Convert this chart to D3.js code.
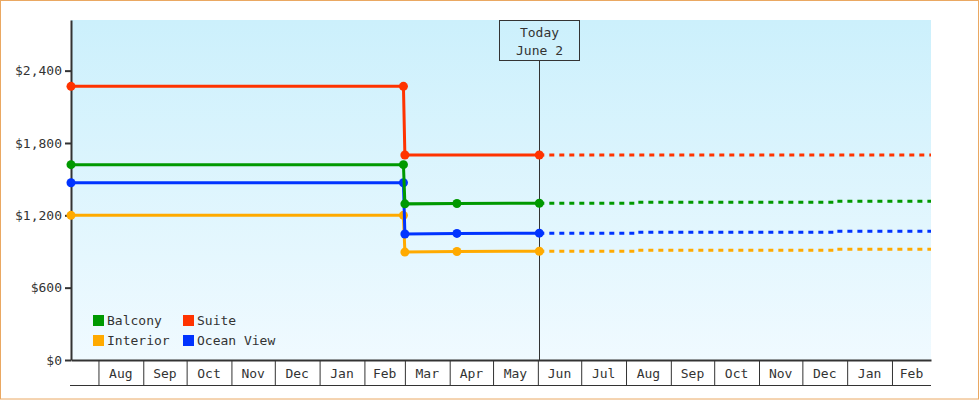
<!DOCTYPE html>
<html>
<head>
<meta charset="utf-8">
<script src="https://cdn.jsdelivr.net/npm/d3@7"></script>
<style>
  body { margin: 0; background: #fff; }
  text { font-family: "DejaVu Sans Mono", monospace; font-size: 13px; fill: #333; }
</style>
</head>
<body>
<div id="chart"></div>
<script>
// price history (solid) and forecast (dashed)
const categories = ["Balcony", "Suite", "Interior", "Ocean View"];
const colors = ["#009900", "#ff3300", "#ffaa00", "#0033ff"];
const priceDates = ["2013-07-13", "2014-02-28", "2014-03-01", "2014-04-06", "2014-06-02"];
const balcony = [1620, 1620, 1295, 1298, 1300];
const suite = [2270, 2270, 1700, null, 1700];
const interior = [1200, 1200, 895, 900, 902];
const oceanView = [1470, 1470, 1045, 1050, 1052];
const forecastDates = ["2014-06-02", "2014-08-09", "2014-12-23", "2015-02-28"];
const balconyForecast = [1300, 1308, 1316, 1316];
const suiteForecast = [1700, 1700, 1700, 1700];
const interiorForecast = [902, 910, 918, 918];
const oceanViewForecast = [1052, 1060, 1068, 1068];
const yTicks = [0, 600, 1200, 1800, 2400];
const xDomain = ["2013-07-13", "2015-02-28"];
const today = "2014-06-02";
const todayLabel = ["Today", "June 2"];

var w = 980, h = 400;
var pLeft = 71, pRight = 931, pTop = 20, pBottom = 360;

var parse = d3.utcParse("%Y-%m-%d");

var series = [
  { name: "Interior", color: colors[2], vals: interior, fc: interiorForecast },
  { name: "Ocean View", color: colors[3], vals: oceanView, fc: oceanViewForecast },
  { name: "Balcony", color: colors[0], vals: balcony, fc: balconyForecast },
  { name: "Suite", color: colors[1], vals: suite, fc: suiteForecast }
];

var svg = d3.select("#chart").append("svg")
  .attr("width", w)
  .attr("height", h);

svg.append("rect")
  .attr("x", 0.5).attr("y", 0.5)
  .attr("width", w - 2).attr("height", h - 1.5)
  .attr("fill", "#fff")
  .attr("stroke", "#eaa862");

var grad = svg.append("defs").append("linearGradient")
  .attr("id", "bg").attr("x1", 0).attr("y1", 0).attr("x2", 0).attr("y2", 1);
grad.append("stop").attr("offset", "0%").attr("stop-color", "#ccf0fc");
grad.append("stop").attr("offset", "100%").attr("stop-color", "#f0faff");

svg.append("rect")
  .attr("x", pLeft).attr("y", pTop)
  .attr("width", pRight - pLeft).attr("height", pBottom - pTop)
  .attr("fill", "url(#bg)");

var x = d3.scaleUtc()
  .domain(xDomain.map(parse))
  .range([pLeft, pRight]);

var y = d3.scaleLinear()
  .domain([0, 2820])
  .range([pBottom, pTop]);

// x axis: month boxes
var months = d3.utcMonth.range(x.domain()[0], x.domain()[1]);

var xAxis = svg.append("g")
  .attr("transform", "translate(0," + pBottom + ")")
  .call(d3.axisBottom(x).tickValues(months).tickSize(25).tickSizeOuter(0).tickFormat(""));
xAxis.select(".domain").attr("stroke", "#333").attr("stroke-width", 2);
xAxis.selectAll(".tick line").attr("stroke", "#333");

svg.append("line")
  .attr("x1", pLeft - 1).attr("x2", pRight)
  .attr("y1", 385.5).attr("y2", 385.5)
  .attr("stroke", "#333");

svg.append("g").selectAll("text")
  .data(months)
  .enter().append("text")
  .attr("x", d => (x(d) + x(d3.min([d3.utcMonth.offset(d, 1), x.domain()[1]]))) / 2)
  .attr("y", 373)
  .attr("dy", "0.35em")
  .attr("text-anchor", "middle")
  .text(d => d3.utcFormat("%b")(d));

// y axis
var yAxis = svg.append("g")
  .attr("transform", "translate(" + pLeft + ",0)")
  .call(d3.axisLeft(y).tickValues(yTicks).tickSize(6).tickSizeOuter(0).tickPadding(3)
    .tickFormat(d => "$" + d3.format(",")(d)));
yAxis.select(".domain").attr("stroke", "#333").attr("stroke-width", 2);
yAxis.selectAll(".tick line").attr("stroke", "#333").attr("stroke-width", 2);
yAxis.selectAll(".tick text")
  .style("font-family", "DejaVu Sans Mono, monospace")
  .style("font-size", "13px")
  .attr("fill", "#333");

// today marker
var tx = Math.round(x(parse(today))) + 0.5;
svg.append("line")
  .attr("x1", tx).attr("x2", tx)
  .attr("y1", 60).attr("y2", pBottom)
  .attr("stroke", "#333");
svg.append("rect")
  .attr("x", tx - 40).attr("y", 20.5)
  .attr("width", 80).attr("height", 40)
  .attr("fill", "none")
  .attr("stroke", "#333");
svg.append("g").selectAll("text")
  .data(todayLabel)
  .enter().append("text")
  .attr("x", tx)
  .attr("y", (d, i) => 32 + i * 18)
  .attr("dy", "0.35em")
  .attr("text-anchor", "middle")
  .text(d => d);

// lines
var line = d3.line()
  .x(d => x(d[0]))
  .y(d => y(d[1]));

var stepLine = d3.line()
  .curve(d3.curveStepAfter)
  .x(d => x(d[0]))
  .y(d => y(d[1]));

series.forEach(function(s) {
  var pts = priceDates.map((d, i) => [parse(d), s.vals[i]]).filter(d => d[1] != null);
  var fpts = forecastDates.map((d, i) => [parse(d), s.fc[i]]);

  svg.append("path")
    .attr("d", stepLine(fpts))
    .attr("fill", "none")
    .attr("stroke", s.color)
    .attr("stroke-width", 3)
    .attr("stroke-dasharray", "5,5");

  svg.append("path")
    .attr("d", line(pts))
    .attr("fill", "none")
    .attr("stroke", s.color)
    .attr("stroke-width", 3);

  svg.append("g").selectAll("circle")
    .data(pts)
    .enter().append("circle")
    .attr("cx", d => x(d[0]))
    .attr("cy", d => y(d[1]))
    .attr("r", 4.5)
    .attr("fill", s.color);
});

// legend
var legend = svg.append("g").selectAll("g")
  .data(categories)
  .enter().append("g")
  .attr("transform", (d, i) => "translate(" + (93 + (i % 2) * 90) + "," + (315 + Math.floor(i / 2) * 20) + ")");
legend.append("rect")
  .attr("width", 11).attr("height", 11)
  .attr("fill", (d, i) => colors[i]);
legend.append("text")
  .attr("x", 14)
  .attr("y", 10)
  .text(d => d);
</script>
</body>
</html>
